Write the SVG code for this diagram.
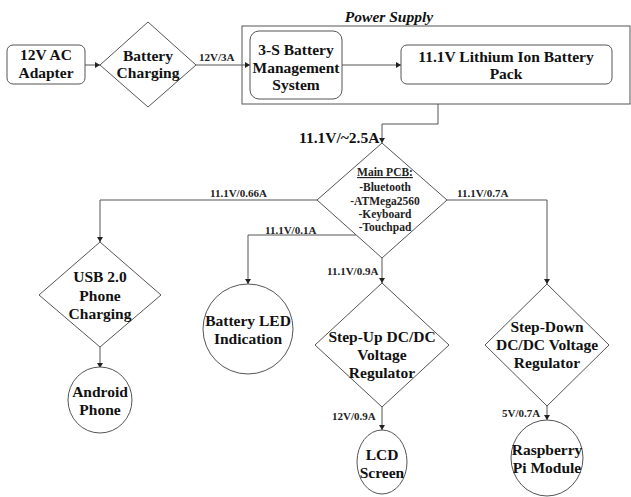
<svg xmlns="http://www.w3.org/2000/svg" width="631" height="497" viewBox="0 0 631 497">
<defs>
<marker id="ah" markerWidth="6" markerHeight="6" refX="5" refY="3" orient="auto" markerUnits="userSpaceOnUse">
<path d="M0,0 L5,3 L0,6 z" fill="#222"/>
</marker>
<style>
.s{fill:#fff;stroke:#555;stroke-width:1}
.c{fill:none;stroke:#555;stroke-width:1;marker-end:url(#ah)}
.n{font-family:"Liberation Serif","Times New Roman",serif;font-weight:bold;font-size:15.5px;fill:#111;text-anchor:middle}
.l{font-family:"Liberation Serif","Times New Roman",serif;font-weight:bold;font-size:11px;fill:#222}
.p{font-family:"Liberation Serif","Times New Roman",serif;font-weight:bold;font-size:11.5px;fill:#222;text-anchor:middle}
</style>
</defs>
<rect width="631" height="497" fill="#fff"/>

<g id="power-supply">
<rect class="s" x="242" y="26" width="388" height="78"/>
<text x="389" y="22" font-family="Liberation Serif, serif" font-style="italic" font-weight="bold" font-size="15.5" fill="#111" text-anchor="middle">Power Supply</text>
</g>

<g id="connectors">
<line class="c" x1="85" y1="65" x2="100" y2="65"/>
<line class="c" x1="196" y1="65" x2="250" y2="65"/>
<text class="l" x="199" y="61">12V/3A</text>
<line class="c" x1="342" y1="65" x2="401" y2="65"/>
<polyline class="c" points="438,104 438,124 382,124 382,143"/>
<text x="299" y="143" font-family="Liberation Serif, serif" font-weight="bold" font-size="15.5" fill="#111">11.1V/~2.5A</text>
<polyline class="c" points="317,200 100,200 100,242"/>
<text class="l" x="210" y="197">11.1V/0.66A</text>
<polyline class="c" points="356,235 248,235 248,284"/>
<text class="l" x="265" y="234">11.1V/0.1A</text>
<line class="c" x1="382" y1="258" x2="382" y2="283"/>
<text class="l" x="327" y="275">11.1V/0.9A</text>
<polyline class="c" points="447,200 547,200 547,284"/>
<text class="l" x="457" y="197">11.1V/0.7A</text>
<line class="c" x1="100" y1="347" x2="100" y2="368"/>
<line class="c" x1="382" y1="407" x2="382" y2="430"/>
<text class="l" x="332" y="420">12V/0.9A</text>
<line class="c" x1="547" y1="406" x2="547" y2="420"/>
<text class="l" x="502" y="417">5V/0.7A</text>
</g>

<g id="ac-adapter">
<rect class="s" x="7" y="45" width="78" height="39" rx="6"/>
<text class="n" x="46" y="60">12V AC</text>
<text class="n" x="46" y="78">Adapter</text>
</g>

<g id="battery-charging">
<polygon class="s" points="148,22 196,65 148,107 100,65"/>
<text class="n" x="148" y="61">Battery</text>
<text class="n" x="148" y="78">Charging</text>
</g>

<g id="bms">
<rect class="s" x="250" y="31" width="92" height="68" rx="9"/>
<text class="n" x="296" y="55">3-S Battery</text>
<text class="n" x="296" y="73">Management</text>
<text class="n" x="296" y="90">System</text>
</g>

<g id="battery-pack">
<rect class="s" x="401" y="45" width="211" height="39" rx="6"/>
<text class="n" x="506" y="62">11.1V Lithium Ion Battery</text>
<text class="n" x="506" y="79">Pack</text>
</g>

<g id="main-pcb">
<polygon class="s" points="382,143 447,200 382,258 317,200"/>
<text class="p" x="385" y="176" text-decoration="underline">Main PCB:</text>
<text class="p" x="385" y="191">-Bluetooth</text>
<text class="p" x="385" y="205">-ATMega2560</text>
<text class="p" x="385" y="218">-Keyboard</text>
<text class="p" x="385" y="231">-Touchpad</text>
</g>

<g id="usb-charging">
<polygon class="s" points="100,242 161,295 100,347 39,295"/>
<text class="n" x="100" y="282">USB 2.0</text>
<text class="n" x="100" y="301">Phone</text>
<text class="n" x="100" y="319">Charging</text>
</g>

<g id="android-phone">
<ellipse class="s" cx="100" cy="400" rx="32" ry="33"/>
<text class="n" x="100" y="397">Android</text>
<text class="n" x="100" y="415">Phone</text>
</g>

<g id="battery-led">
<ellipse class="s" cx="248" cy="329" rx="45" ry="45"/>
<text class="n" x="248" y="326">Battery LED</text>
<text class="n" x="248" y="344">Indication</text>
</g>

<g id="step-up">
<polygon class="s" points="382,283 449,345 382,407 315,345"/>
<text class="n" x="382" y="342">Step-Up DC/DC</text>
<text class="n" x="382" y="360">Voltage</text>
<text class="n" x="382" y="378">Regulator</text>
</g>

<g id="lcd-screen">
<ellipse class="s" cx="382" cy="462" rx="25" ry="32"/>
<text class="n" x="382" y="460">LCD</text>
<text class="n" x="382" y="478">Screen</text>
</g>

<g id="step-down">
<polygon class="s" points="547,284 609,345 547,406 485,345"/>
<text class="n" x="547" y="332">Step-Down</text>
<text class="n" x="547" y="350">DC/DC Voltage</text>
<text class="n" x="547" y="368">Regulator</text>
</g>

<g id="raspberry-pi">
<ellipse class="s" cx="547" cy="458" rx="36" ry="38"/>
<text class="n" x="547" y="455">Raspberry</text>
<text class="n" x="547" y="473">Pi Module</text>
</g>
</svg>
